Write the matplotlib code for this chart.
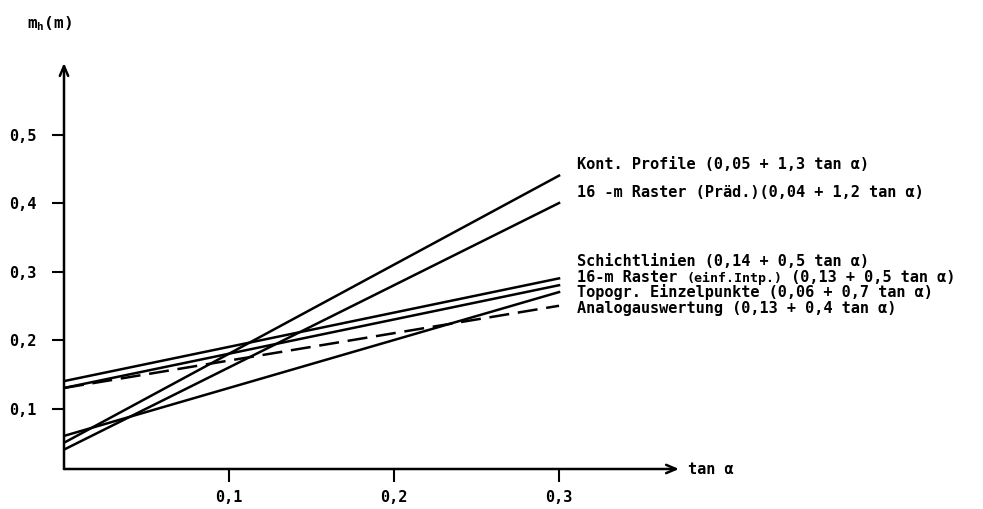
import numpy as np
import matplotlib
matplotlib.use('Agg')
import matplotlib.pyplot as plt

plt.rcParams['font.family'] = ['DejaVu Sans Mono']
plt.rcParams['mathtext.default'] = 'regular'

# accuracy models m_h = a + b * tan(alpha)
names = ['Kont. Profile', '16 -m Raster (Präd.)', 'Schichtlinien',
         '16-m Raster', 'Topogr. Einzelpunkte', 'Analogauswertung']
a = [0.05, 0.04, 0.14, 0.13, 0.06, 0.13]
b = [1.3, 1.2, 0.5, 0.5, 0.7, 0.4]
dashed = [False, False, False, False, False, True]
tan_range = [0.0, 0.3]

x_ticks = [0.1, 0.2, 0.3]
y_ticks = [0.1, 0.2, 0.3, 0.4, 0.5]

def comma(v, d):
    return ('%.*f' % (d, v)).replace('.', ',')

fig = plt.figure(figsize=(9.83, 5.09), dpi=100)
W, H = 983, 509
ax = fig.add_axes([64 / W, 40 / H, 615 / W, 406 / H])
ax.set_xlim(0, 0.3727)
ax.set_ylim(0.0117, 0.6044)
for s in ax.spines.values():
    s.set_visible(False)

t = np.array(tan_range)
for ai, bi, d in zip(a, b, dashed):
    if d:
        ax.plot(t, ai + bi * t, color='black', lw=1.8, dashes=(8, 3.5),
                solid_capstyle='butt')
    else:
        ax.plot(t, ai + bi * t, color='black', lw=1.8)

# axes with arrow heads
arr = dict(arrowstyle='->,head_length=0.7,head_width=0.3', lw=1.8,
           color='black', shrinkA=0, shrinkB=0)
ax.annotate('', xy=(1, 0), xytext=(0, 0), xycoords='axes fraction',
            arrowprops=arr, annotation_clip=False)
ax.annotate('', xy=(0, 1), xytext=(0, 0), xycoords='axes fraction',
            arrowprops=arr, annotation_clip=False)

ax.set_xticks(x_ticks)
ax.set_xticklabels([comma(v, 1) for v in x_ticks])
ax.set_yticks(y_ticks)
ax.set_yticklabels([comma(v, 1) for v in y_ticks])
ax.tick_params(axis='x', direction='out', length=9, width=1.5, pad=6,
               labelsize=11)
ax.tick_params(axis='y', direction='out', length=9, width=1.5, pad=11,
               labelsize=11)
for lab in ax.get_xticklabels() + ax.get_yticklabels():
    lab.set_fontweight('bold')

fig.text(688 / W, 1 - 469 / H, 'tan α', fontsize=11, fontweight='bold',
         va='center', ha='left')
fig.text(27 / W, 1 - 24 / H, 'm$_{h}$(m)', fontsize=11.5, fontweight='bold',
         va='center', ha='left')

# labels to the right of the lines
label_y = [164, 192, 261, 277, 292, 308]
kw = dict(fontsize=11, fontweight='bold', va='baseline', ha='left')
for i, (n, ai, bi) in enumerate(zip(names, a, b)):
    yb = 1 - (label_y[i] + 5) / H
    coef = '(%s + %s tan α)' % (comma(ai, 2), comma(bi, 1))
    if i == 1:
        fig.text(577 / W, yb, n + coef, **kw)
    elif i == 3:
        t1 = fig.text(577 / W, yb, n + ' ', **kw)
        t2 = fig.text(0, 0, '(einf.Intp.)', fontsize=9.5, fontweight='bold',
                      va='baseline', ha='left')
        fig.canvas.draw()
        r = fig.canvas.get_renderer()
        e1 = t1.get_window_extent(r)
        t2.set_position((e1.x1 / fig.bbox.width, yb))
        e2 = t2.get_window_extent(r)
        fig.text(e2.x1 / fig.bbox.width, yb, ' ' + coef, **kw)
    else:
        fig.text(577 / W, yb, n + ' ' + coef, **kw)

fig.savefig('out.png', dpi=100)
